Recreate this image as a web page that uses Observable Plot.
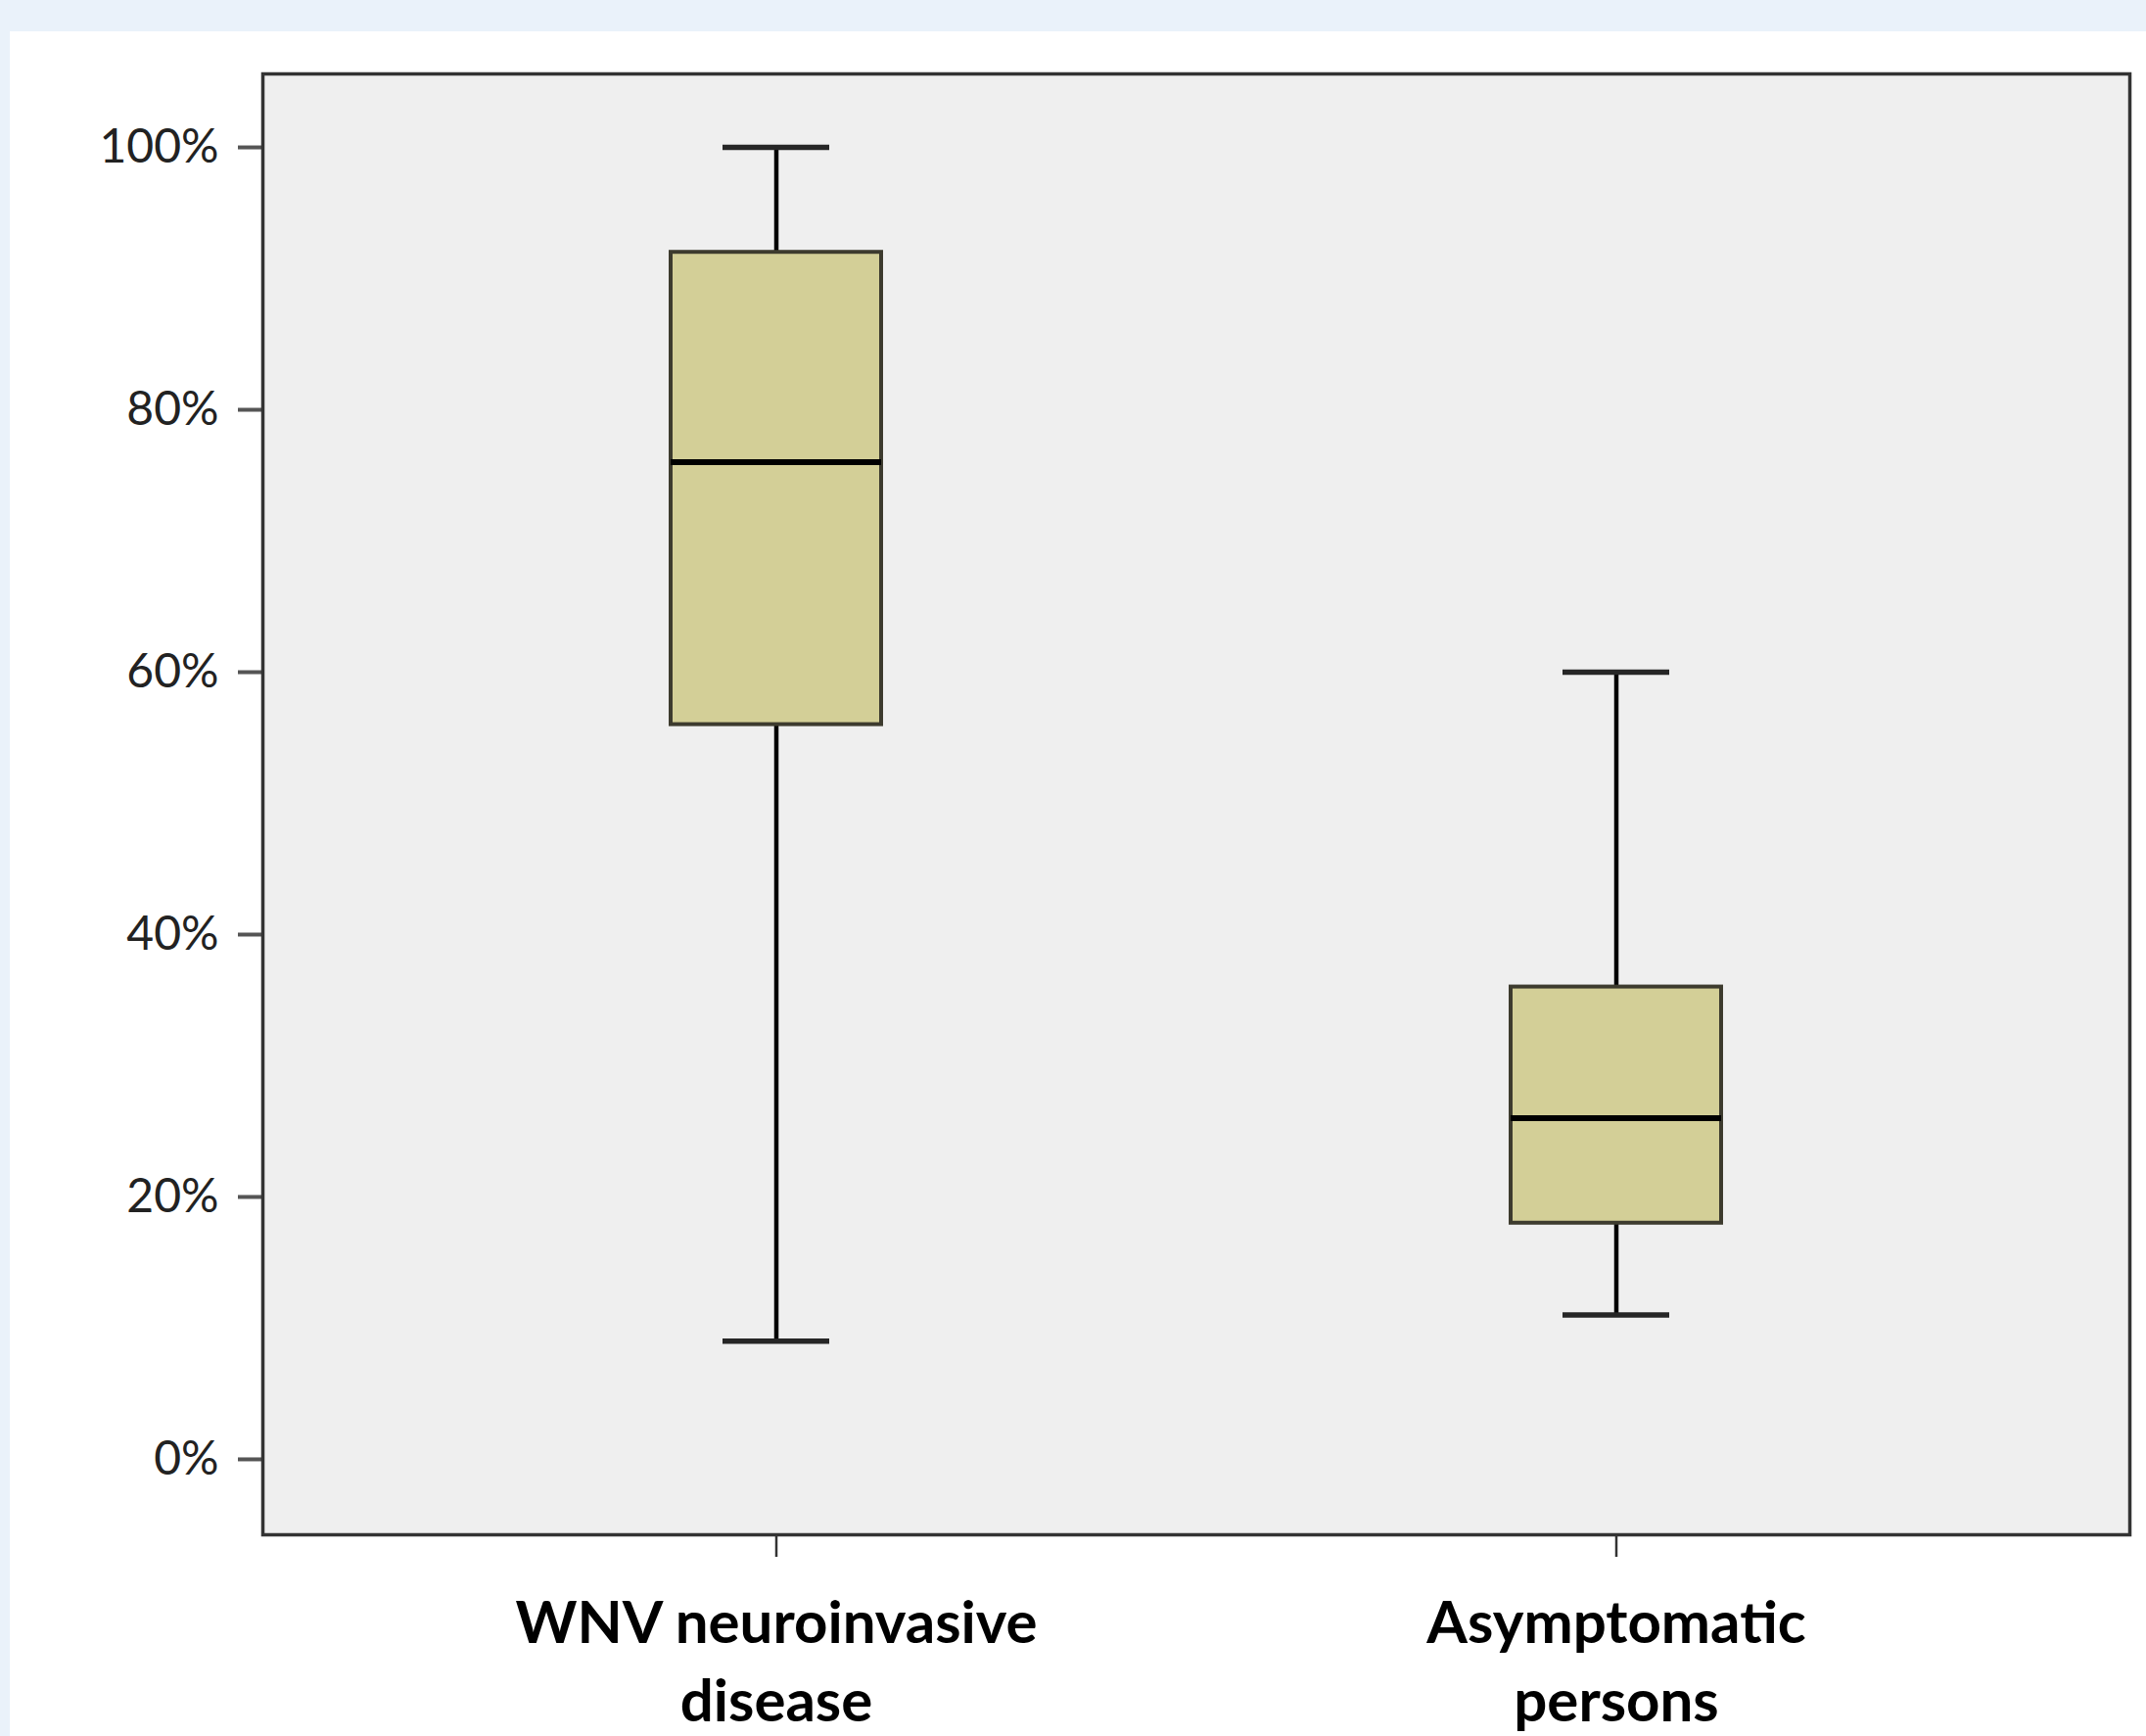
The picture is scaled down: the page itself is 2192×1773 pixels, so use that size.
<!DOCTYPE html>
<html>
<head>
<meta charset="utf-8">
<script src="https://cdn.jsdelivr.net/npm/d3@7"></script>
<script src="https://cdn.jsdelivr.net/npm/@observablehq/plot@0.6"></script>
<style>
  html, body { margin: 0; padding: 0; background: #EAF2FA; }
  body { width: 2192px; height: 1773px; position: relative; overflow: hidden; }
  #panel { position: absolute; left: 10px; top: 32px; right: 0; bottom: 0; background: #ffffff; }
  #chart { position: absolute; left: 0; top: 0; }
</style>
</head>
<body>
<div id="panel"></div>
<div id="chart"></div>
<script>
// Data (percent)
const categories = ["WNV neuroinvasive\ndisease", "Asymptomatic\npersons"];
const whiskerLow = [9, 11];
const q1 = [56, 18];
const median = [76, 26];
const q3 = [92, 36];
const whiskerHigh = [100, 60];
const yTicks = [0, 20, 40, 60, 80, 100];

const rows = categories.map((c, i) => ({
  group: c, lo: whiskerLow[i], q1: q1[i], med: median[i], q3: q3[i], hi: whiskerHigh[i]
}));

const chart = Plot.plot({
  width: 2192,
  height: 1773,
  marginLeft: 268,
  marginRight: 17,
  marginTop: 75,
  marginBottom: 206,
  style: { background: "transparent", fontFamily: "Lato, 'Open Sans', sans-serif", overflow: "visible" },
  x: { domain: categories, paddingInner: 0.75, paddingOuter: 0.486, label: null, axis: null },
  y: { domain: [-5.75, 105.6], label: null, axis: null },
  marks: [
    Plot.frame({ fill: "#EFEFEF", stroke: null }),
    Plot.ruleX(rows, { x: "group", y1: "lo", y2: "hi", stroke: "#000", strokeWidth: 4.5 }),
    Plot.tickY(rows, { x: "group", y: "lo", insetLeft: 53, insetRight: 53, stroke: "#262626", strokeWidth: 5.5 }),
    Plot.tickY(rows, { x: "group", y: "hi", insetLeft: 53, insetRight: 53, stroke: "#262626", strokeWidth: 5.5 }),
    Plot.barY(rows, { x: "group", y1: "q1", y2: "q3", fill: "#D3CF97", stroke: "#3d3b2e", strokeWidth: 4 }),
    Plot.tickY(rows, { x: "group", y: "med", stroke: "#000", strokeWidth: 6 }),
    Plot.axisY({
      ticks: yTicks, tickFormat: d => d + "%", label: null,
      tickSize: 25, tickPadding: 20, fontSize: 48,
      stroke: "#555", strokeWidth: 4, fill: "#222"
    }),
    Plot.axisX({
      label: null, tickSize: 23, tickPadding: 31, fontSize: 60, fontWeight: "bold",
      lineHeight: 1.333, stroke: "#333", strokeWidth: 2.5, fill: "#000"
    }),
    Plot.frame({ stroke: "#333", strokeWidth: 3.5 })
  ]
});
document.getElementById("chart").appendChild(chart);
</script>
</body>
</html>
